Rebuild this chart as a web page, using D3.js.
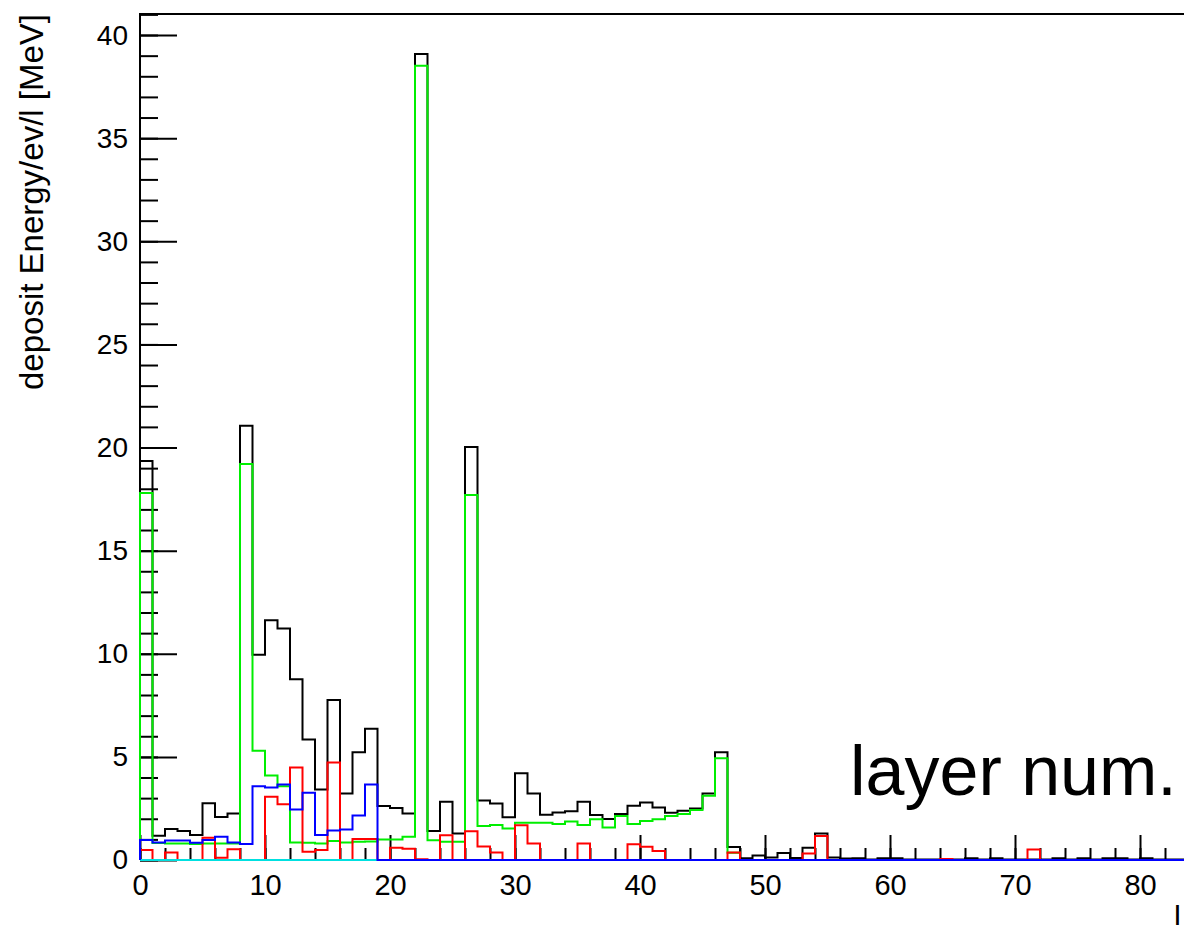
<!DOCTYPE html>
<html>
<head>
<meta charset="utf-8">
<script src="https://cdn.jsdelivr.net/npm/d3@7"></script>
<style>
  html, body { margin: 0; padding: 0; background: #fff; }
  svg { display: block; }
  text { font-family: "Liberation Sans", Helvetica, Arial, sans-serif; }
</style>
</head>
<body>
<script>
/* globals d3 */
// deposit energy per layer, one value per bin (layer 0, 1, 2, ...)
const total = [
  19.35, 1.18, 1.5, 1.41, 1.21, 2.75, 2.08, 2.26, 21.05, 9.95,
  11.63, 11.22, 8.76, 5.84, 3.42, 7.76, 3.22, 5.22, 6.37, 2.62,
  2.52, 2.26, 39.08, 1.41, 2.83, 1.28, 20.03, 2.88, 2.74, 2.07,
  4.21, 3.23, 2.2, 2.3, 2.36, 2.83, 2.18, 1.99, 2.23, 2.63,
  2.79, 2.54, 2.29, 2.39, 2.5, 3.23, 5.22, 0.63, 0.08, 0.22,
  0.12, 0.34, 0.1, 0.6, 1.28, 0.12, 0.07, 0.08, 0.03, 0.08,
  0.08, 0.03, 0.03, 0.03, 0.03, 0.03, 0.08, 0.03, 0.08, 0.03,
  0.03, 0.03, 0.03, 0.08, 0.03, 0.08, 0.03, 0.08, 0.08, 0.03,
  0.08, 0.03, 0.03, 0.03, 0.03, 0.03, 0.03, 0.03, 0.03, 0.03
]
const green = [
  17.8, 0.82, 0.8, 0.8, 0.78, 0.8, 0.8, 0.8, 19.2, 5.3,
  4.1, 3.57, 0.85, 0.84, 0.8, 0.92, 0.85, 0.88, 0.9, 1.0,
  1.0, 1.13, 38.51, 0.96, 0.89, 0.89, 17.7, 1.65, 1.7, 1.53,
  1.81, 1.81, 1.81, 1.74, 1.87, 1.7, 1.97, 1.58, 2.13, 1.75,
  1.89, 1.97, 2.13, 2.23, 2.42, 3.12, 4.93, 0.35
]
const red = [
  0.48, 0, 0.36, 0, 0, 1.08, 0.11, 0.52, 0, 0,
  3.07, 2.7, 4.49, 0.4, 0.48, 4.73, 0, 1.02, 1.02, 0,
  0.6, 0.55, 0.04, 0, 1.2, 0, 1.39, 0.66, 0.36, 0,
  1.69, 0.8, 0, 0, 0, 0.8, 0, 0, 0, 0.76,
  0.64, 0.44, 0, 0, 0, 0, 0, 0.36, 0, 0,
  0, 0, 0, 0.32, 1.16, 0, 0, 0, 0, 0,
  0, 0, 0, 0, 0.05, 0, 0, 0, 0, 0,
  0, 0.51
]
const blue = [
  0.97, 0.85, 0.94, 0.94, 0.84, 0.97, 1.13, 0.85, 0.78, 3.58,
  3.52, 3.66, 2.45, 3.26, 1.21, 1.43, 1.48, 2.16, 3.66
]
const cyan = []

const nBins = 90
const yMax = 41.02
const yMajor = [0, 5, 10, 15, 20, 25, 30, 35, 40]
const xMajor = [0, 10, 20, 30, 40, 50, 60, 70, 80]

const W = 1184, H = 925
const x = d3.scaleLinear().domain([0, nBins]).range([140, 140 + 12.5 * nBins])
const y = d3.scaleLinear().domain([0, yMax]).range([860, 14])

const svg = d3.select('body').append('svg')
  .attr('width', W).attr('height', H)

// frame (left + top)
svg.append('path')
  .attr('d', `M${x(0)},${y(0)}V${y(yMax)}H${x(nBins)}`)
  .attr('fill', 'none').attr('stroke', '#000').attr('stroke-width', 2)

// y ticks, drawn inward like ROOT
svg.append('g').attr('transform', `translate(${x(0)},0)`)
  .call(d3.axisRight(y).tickValues(d3.range(0, 42, 1)).tickSize(18).tickFormat(''))
  .call(g => g.select('.domain').remove())
svg.append('g').attr('transform', `translate(${x(0)},0)`)
  .call(d3.axisRight(y).tickValues(yMajor).tickSize(37).tickFormat(''))
  .call(g => g.select('.domain').remove())
svg.append('g').attr('transform', `translate(${x(0)},0)`)
  .call(d3.axisLeft(y).tickValues(yMajor).tickSize(0).tickPadding(12))
  .call(g => g.select('.domain').remove())
  .call(g => g.selectAll('text').attr('font-size', 28).attr('font-family', null).attr('fill', '#000'))

// x ticks
svg.append('g').attr('transform', `translate(0,${y(0)})`)
  .call(d3.axisTop(x).tickValues(d3.range(0, nBins + 1, 2)).tickSize(12).tickFormat(''))
  .call(g => g.select('.domain').remove())
svg.append('g').attr('transform', `translate(0,${y(0)})`)
  .call(d3.axisTop(x).tickValues(xMajor.concat([90])).tickSize(25).tickFormat(''))
  .call(g => g.select('.domain').remove())
svg.append('g').attr('transform', `translate(0,${y(0)})`)
  .call(d3.axisBottom(x).tickValues(xMajor).tickSize(0).tickPadding(14))
  .call(g => g.select('.domain').remove())
  .call(g => g.selectAll('text').attr('font-size', 29).attr('font-family', null).attr('fill', '#000'))

svg.selectAll('.tick line').attr('stroke', '#000').attr('stroke-width', 2)

// step outline of a histogram
let line = d3.line().x(d => x(d[0])).y(d => y(d[1]))
let steps = vals => {
  let pts = [[0, 0]]
  for (let i = 0; i < nBins; i++) {
    let v = vals[i] || 0
    pts.push([i, v], [i + 1, v])
  }
  pts.push([nBins, 0])
  return pts
}

const series = [
  { vals: total, color: '#000000' },
  { vals: green, color: '#00ee00' },
  { vals: red, color: '#ff0000' },
  { vals: cyan, color: '#00e0e0' },
  { vals: blue, color: '#0000ff' }
]
svg.append('g').selectAll('path')
  .data(series)
  .join('path')
  .attr('d', d => line(steps(d.vals)))
  .attr('fill', 'none')
  .attr('stroke', d => d.color)
  .attr('stroke-width', 2)

// axis titles (x title runs off the right edge, as in the source)
svg.append('text')
  .attr('transform', 'translate(43,14) rotate(-90)')
  .attr('text-anchor', 'end')
  .attr('font-size', 33)
  .text('deposit Energy/ev/l [MeV]')
svg.append('text')
  .attr('x', 1174).attr('y', 928)
  .attr('font-size', 31)
  .text('l')

// big label
svg.append('text')
  .attr('x', 850).attr('y', 795)
  .attr('font-size', 70)
  .text('layer num.')
</script>
</body>
</html>
